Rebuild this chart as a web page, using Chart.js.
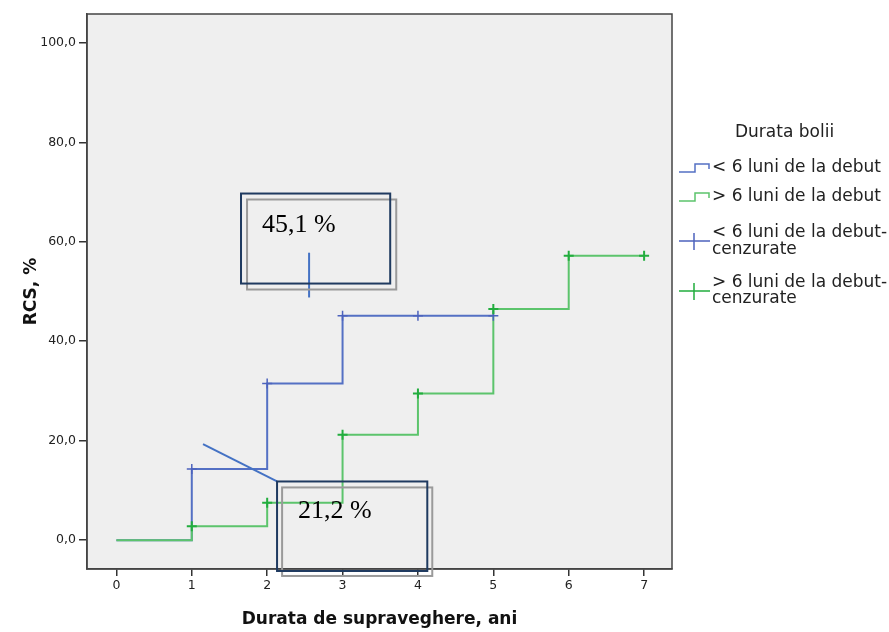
<!DOCTYPE html>
<html lang="ro">
<head>
    <meta charset="UTF-8">
    <title>RCS - Durata bolii</title>
    <script src="https://cdn.jsdelivr.net/npm/chart.js"></script>
    <style>
        body { margin: 0; background: #fff; }
        .wrap { position: relative; width: 889px; height: 632px; }
    </style>
</head>
<body>
    <div class="wrap"><canvas id="rcsChart"></canvas></div>

    <script>
        // ani de supraveghere (axa X)
        const years = [0, 1, 2, 3, 4, 5, 6, 7];
        const yTicks = [0, 20, 40, 60, 80, 100];

        // < 6 luni de la debut
        const shortTimes = [0, 1, 2, 3, 4, 5];
        const shortValues = [0, 14.3, 31.5, 45.1, 45.1, 45.1];
        const shortCensTimes = [1, 2, 3, 4, 5];
        const shortCensValues = [14.3, 31.5, 45.1, 45.1, 45.1];

        // > 6 luni de la debut
        const longTimes = [0, 1, 2, 3, 4, 5, 6, 7];
        const longValues = [0, 2.8, 7.5, 21.2, 29.5, 46.5, 57.2, 57.2];
        const longCensTimes = [1, 2, 3, 4, 5, 6, 7];
        const longCensValues = [2.8, 7.5, 21.2, 29.5, 46.5, 57.2, 57.2];

        const legendTitle = 'Durata bolii';
        const legendLabels = [
            ['< 6 luni de la debut'],
            ['> 6 luni de la debut'],
            ['< 6 luni de la debut-', 'cenzurate'],
            ['> 6 luni de la debut-', 'cenzurate']
        ];

        // casetele adaugate peste grafic (coordonate in unitatile axelor)
        const noteTexts = ['45,1 %', '21,2 %'];
        const notes = [
            { text: 0, x: 1.93, y: 62.0, dark: [1.653, 69.7, 3.632, 51.6], gray: [1.733, 68.5, 3.712, 50.4], line: [2.556, 57.8, 2.556, 48.8] },
            { text: 1, x: 2.41, y: 4.4, dark: [2.131, 11.8, 4.124, -6.2], gray: [2.198, 10.6, 4.19, -7.2], line: [1.149, 19.3, 2.131, 11.8] }
        ];

        const BLUE = '#5470c4';
        const GREEN = '#5cc46c';
        const BLUE_MARK = '#4d63bd';
        const GREEN_MARK = '#22ad3e';

        const toPoints = (xs, ys) => xs.map((x, i) => ({ x: x, y: ys[i] }));
        const fmt = v => v.toFixed(1).replace('.', ',');

        const plotBackground = {
            id: 'plotBackground',
            beforeDraw(chart) {
                const { ctx, chartArea: a } = chart;
                ctx.save();
                ctx.fillStyle = '#efefef';
                ctx.fillRect(a.left, a.top, a.right - a.left, a.bottom - a.top);
                ctx.restore();
            },
            afterDraw(chart) {
                const { ctx, chartArea: a } = chart;
                ctx.save();
                ctx.strokeStyle = '#444';
                ctx.lineWidth = 1.5;
                ctx.strokeRect(a.left, a.top, a.right - a.left, a.bottom - a.top);
                ctx.restore();
            }
        };

        const notesPlugin = {
            id: 'notes',
            afterDraw(chart) {
                const ctx = chart.ctx;
                const sx = chart.scales.x, sy = chart.scales.y;
                const px = v => sx.getPixelForValue(v);
                const py = v => sy.getPixelForValue(v);
                ctx.save();
                notes.forEach(n => {
                    ctx.lineWidth = 2;
                    ctx.strokeStyle = '#4472c4';
                    ctx.beginPath();
                    ctx.moveTo(px(n.line[0]), py(n.line[1]));
                    ctx.lineTo(px(n.line[2]), py(n.line[3]));
                    ctx.stroke();

                    ctx.strokeStyle = '#9a9a9a';
                    ctx.strokeRect(px(n.gray[0]), py(n.gray[1]), px(n.gray[2]) - px(n.gray[0]), py(n.gray[3]) - py(n.gray[1]));
                    ctx.strokeStyle = '#1f3a60';
                    ctx.strokeRect(px(n.dark[0]), py(n.dark[1]), px(n.dark[2]) - px(n.dark[0]), py(n.dark[3]) - py(n.dark[1]));

                    ctx.fillStyle = '#000';
                    ctx.font = '26px "Liberation Serif", "Times New Roman", serif';
                    ctx.textBaseline = 'alphabetic';
                    ctx.textAlign = 'left';
                    ctx.fillText(noteTexts[n.text], px(n.x), py(n.y));
                });
                ctx.restore();
            }
        };

        const sideLegend = {
            id: 'sideLegend',
            afterDraw(chart) {
                const ctx = chart.ctx;
                const left = chart.chartArea.right + 7;
                const rowY = [[168], [197], [233, 250], [283, 299]];
                const iconY = [168, 197, 241, 291];
                const colors = [BLUE, GREEN, BLUE_MARK, GREEN_MARK];
                ctx.save();
                ctx.fillStyle = '#222';
                ctx.font = '17px "DejaVu Sans", sans-serif';
                ctx.textBaseline = 'middle';
                ctx.textAlign = 'left';
                ctx.fillText(legendTitle, left + 56, 133);
                legendLabels.forEach((lines, i) => {
                    const y = iconY[i];
                    ctx.strokeStyle = colors[i];
                    ctx.lineWidth = 1.5;
                    ctx.beginPath();
                    if (i < 2) {
                        ctx.moveTo(left, y + 4);
                        ctx.lineTo(left + 16, y + 4);
                        ctx.lineTo(left + 16, y - 4);
                        ctx.lineTo(left + 30, y - 4);
                        ctx.lineTo(left + 30, y + 1);
                    } else {
                        ctx.moveTo(left, y);
                        ctx.lineTo(left + 31, y);
                        ctx.moveTo(left + 15, y - 8);
                        ctx.lineTo(left + 15, y + 9);
                    }
                    ctx.stroke();
                    lines.forEach((t, j) => ctx.fillText(t, left + 33, rowY[i][j]));
                });
                ctx.restore();
            }
        };

        function drawChart() {
            const ctx = document.getElementById('rcsChart').getContext('2d');
            const tickFont = { family: '"DejaVu Sans", sans-serif', size: 12.5 };
            const titleFont = { family: '"DejaVu Sans", sans-serif', size: 17, weight: 'bold' };

            new Chart(ctx, {
                type: 'line',
                data: {
                    datasets: [
                        {
                            label: '> 6 luni de la debut-cenzurate',
                            data: toPoints(longCensTimes, longCensValues),
                            showLine: false,
                            pointStyle: 'cross',
                            pointRadius: 5,
                            pointBorderWidth: 2,
                            borderColor: GREEN_MARK,
                            order: 0
                        },
                        {
                            label: '< 6 luni de la debut-cenzurate',
                            data: toPoints(shortCensTimes, shortCensValues),
                            showLine: false,
                            pointStyle: 'cross',
                            pointRadius: 5,
                            pointBorderWidth: 1.5,
                            borderColor: BLUE_MARK,
                            order: 1
                        },
                        {
                            label: '> 6 luni de la debut',
                            data: toPoints(longTimes, longValues),
                            stepped: true,
                            borderColor: GREEN,
                            borderWidth: 2,
                            pointRadius: 0,
                            fill: false,
                            order: 2
                        },
                        {
                            label: '< 6 luni de la debut',
                            data: toPoints(shortTimes, shortValues),
                            stepped: true,
                            borderColor: BLUE,
                            borderWidth: 2,
                            pointRadius: 0,
                            fill: false,
                            order: 3
                        }
                    ]
                },
                options: {
                    responsive: true,
                    maintainAspectRatio: false,
                    animation: false,
                    layout: { padding: { top: 14, right: 217, left: 0, bottom: 0 } },
                    plugins: {
                        legend: { display: false },
                        tooltip: { enabled: false }
                    },
                    scales: {
                        x: {
                            type: 'linear',
                            min: -0.39,
                            max: 7.37,
                            afterBuildTicks: s => { s.ticks = years.map(v => ({ value: v })); },
                            afterFit: s => { s.height = 63; },
                            ticks: { color: '#222', font: tickFont, padding: 2, maxRotation: 0 },
                            grid: { drawOnChartArea: false, tickLength: 7, color: '#333', lineWidth: 1.5 },
                            border: { color: '#444', width: 1.5 },
                            title: {
                                display: true,
                                text: 'Durata de supraveghere, ani',
                                color: '#111',
                                font: titleFont,
                                padding: { top: 0, bottom: 2 }
                            }
                        },
                        y: {
                            type: 'linear',
                            min: -5.8,
                            max: 105.8,
                            afterBuildTicks: s => { s.ticks = yTicks.map(v => ({ value: v })); },
                            afterFit: s => { s.width = 87; },
                            ticks: { color: '#222', font: tickFont, padding: 3, callback: v => fmt(v) },
                            grid: { drawOnChartArea: false, tickLength: 8, color: '#333', lineWidth: 1.5 },
                            border: { color: '#444', width: 1.5 },
                            title: {
                                display: true,
                                text: 'RCS, %',
                                color: '#111',
                                font: titleFont,
                                padding: { top: 21, bottom: 0 }
                            }
                        }
                    }
                },
                plugins: [plotBackground, notesPlugin, sideLegend]
            });
        }

        window.onload = function () {
            drawChart();
        };
    </script>
</body>
</html>
